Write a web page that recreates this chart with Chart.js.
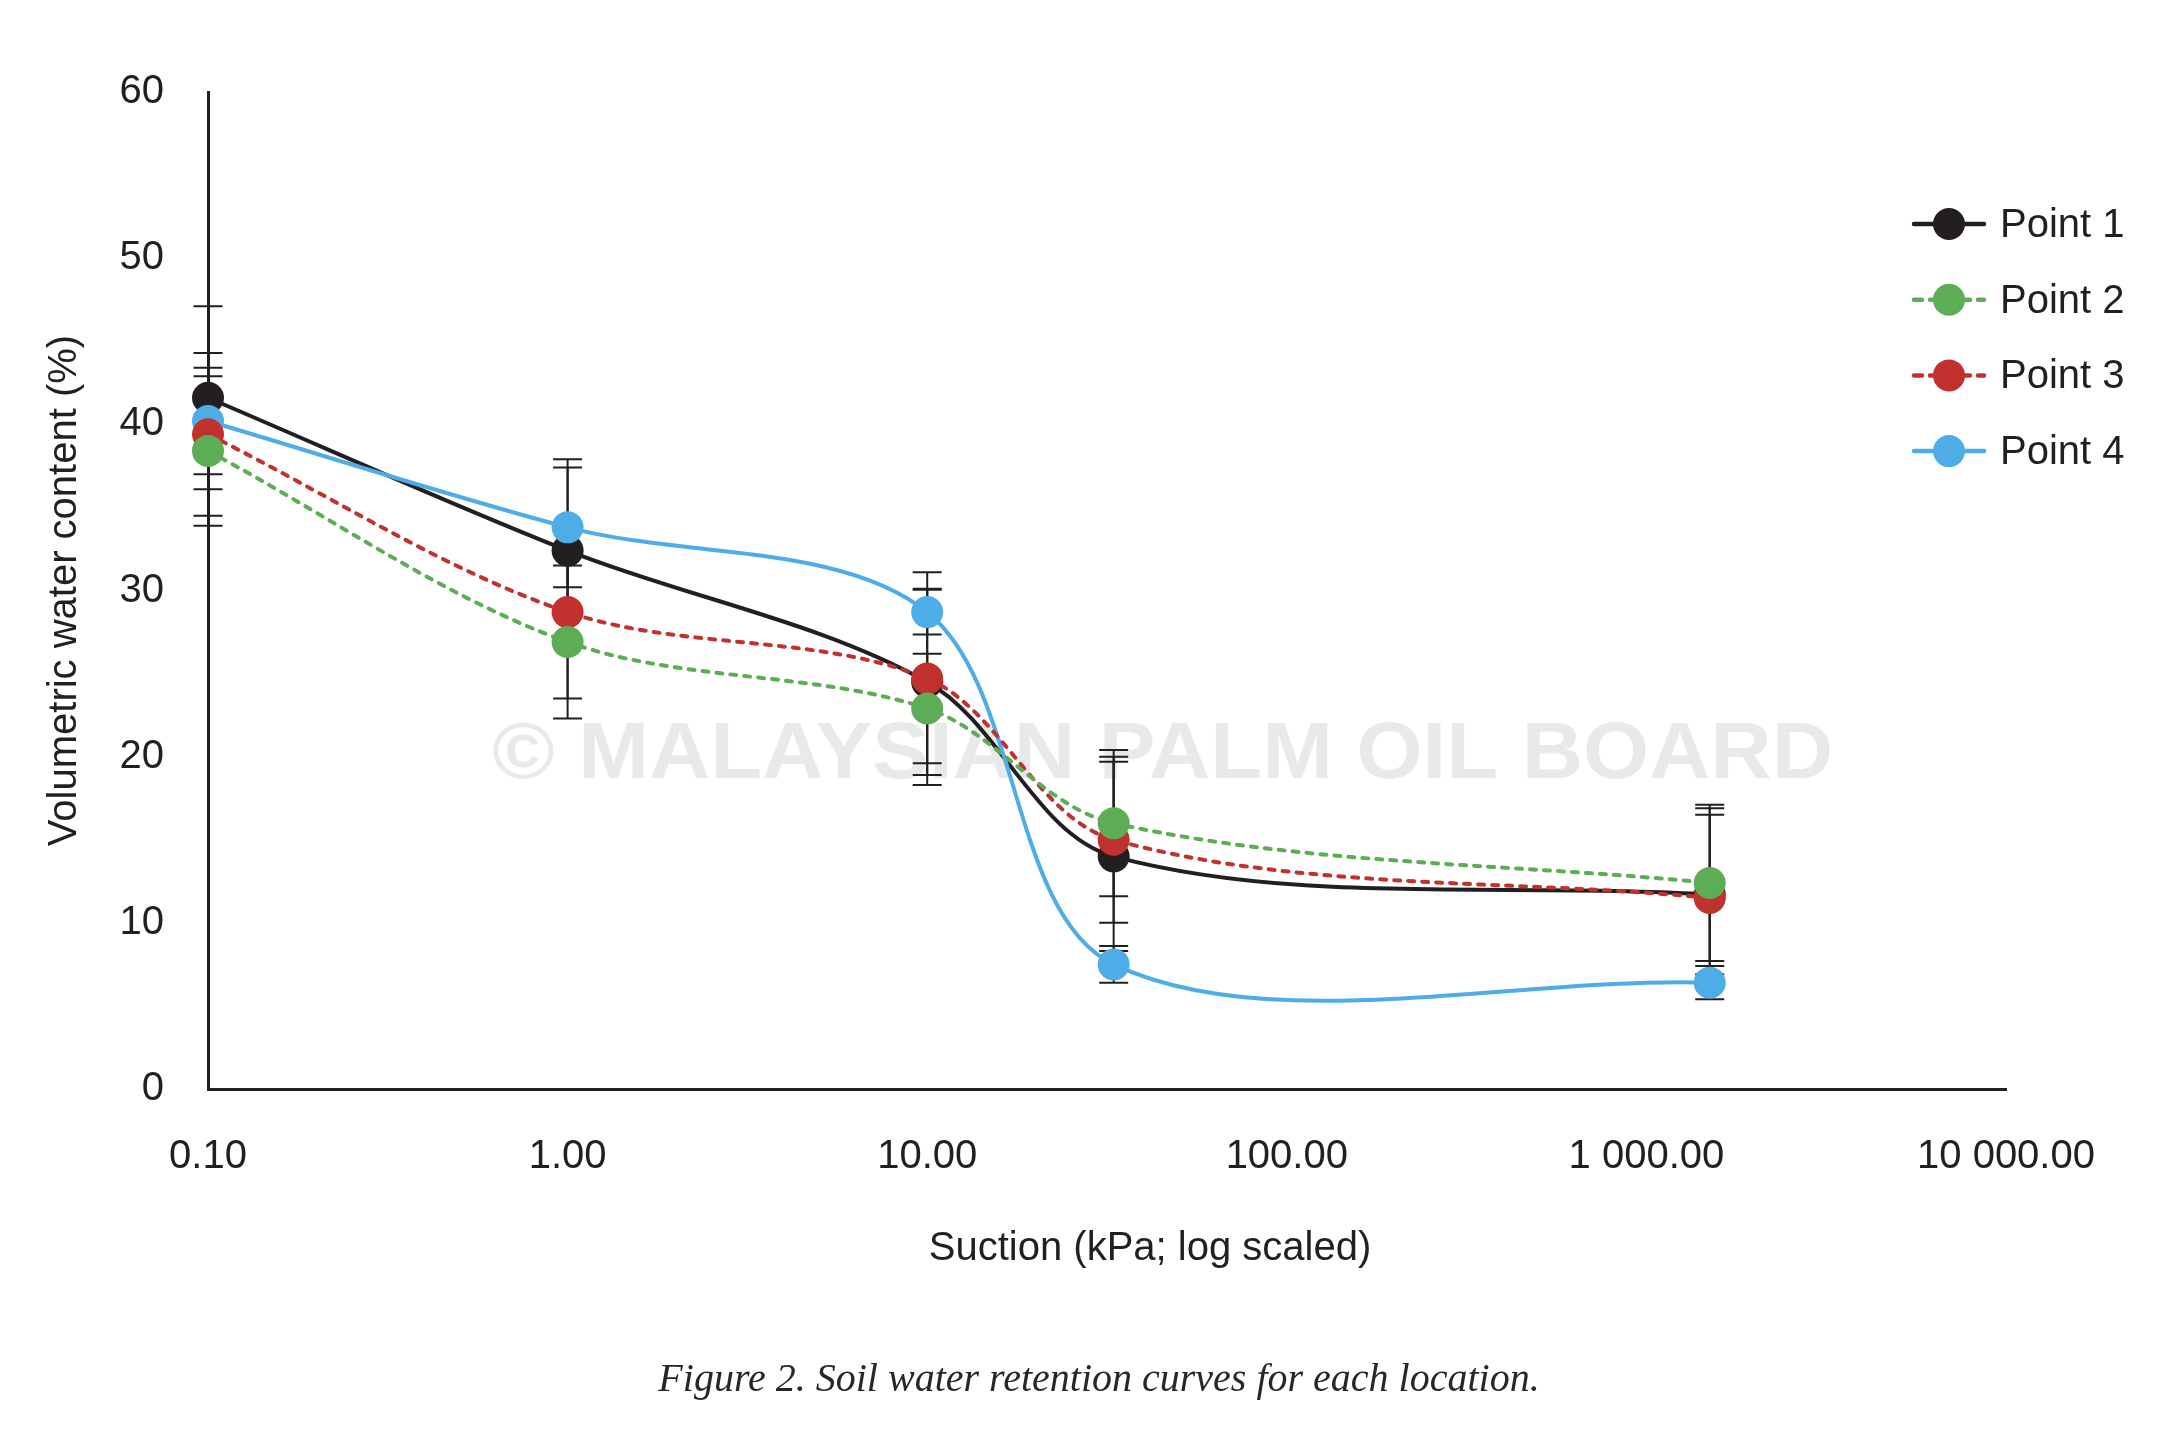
<!DOCTYPE html>
<html>
<head>
<meta charset="utf-8">
<script src="https://cdn.jsdelivr.net/npm/chart.js@4.4.1/dist/chart.umd.min.js"></script>
<style>
  html, body { margin: 0; padding: 0; background: #ffffff; }
  #wrap { width: 2178px; height: 1452px; position: relative; }
</style>
</head>
<body>
<div id="wrap"><canvas id="c" width="2178" height="1452"></canvas></div>
<script>
// ---- data ----
const suction = [0.1, 1, 10, 33, 1500];
const seriesNames = ['Point 1', 'Point 2', 'Point 3', 'Point 4'];
const point1 = [41.6, 32.4, 24.5, 14.0, 11.7];
const point2 = [38.4, 26.9, 22.9, 16.0, 12.4];
const point3 = [39.4, 28.7, 24.7, 15.0, 11.5];
const point4 = [40.2, 33.8, 28.7, 7.5, 6.4];
const err1 = [5.5, 5.5, 5.6, 5.7, 4.8];
const err2 = [4.5, 4.6, 3.3, 4.4, 4.7];
const err3 = [4.9, 5.2, 6.4, 5.0, 5.4];
const err4 = [3.2, 3.6, 1.35, 1.1, 1.0];
const xTickValues = [0.1, 1, 10, 100, 1000, 10000];
const xTickLabels = ['0.10', '1.00', '10.00', '100.00', '1 000.00', '10 000.00'];
const yTickValues = [0, 10, 20, 30, 40, 50, 60];
const xTitle = 'Suction (kPa; log scaled)';
const yTitle = 'Volumetric water content (%)';
const caption = 'Figure 2. Soil water retention curves for each location.';
const watermark = '\u00A9 MALAYSIAN PALM OIL BOARD';

// ---- styles ----
const INK = '#231f20';
const colors = ['#231f20', '#5dad56', '#c1322f', '#4eade7'];
const dashes = [[], [6, 8], [6, 8], []];
const values = [point1, point2, point3, point4];
const errors = [err1, err2, err3, err4];
const drawOrder = [3, 0, 1, 2]; // lower = on top

const datasets = values.map((vals, i) => ({
  label: seriesNames[i],
  data: suction.map((s, j) => ({ x: s, y: vals[j] })),
  borderColor: colors[i],
  backgroundColor: colors[i],
  borderWidth: 4,
  borderDash: dashes[i],
  borderCapStyle: 'round',
  pointRadius: 16,
  pointBorderWidth: 0,
  pointBackgroundColor: colors[i],
  tension: 0.33,
  clip: false,
  order: drawOrder[i],
  errors: errors[i]
}));

const FONT = "'Liberation Sans', Arial, sans-serif";

const decorPlugin = {
  id: 'decor',
  beforeDatasetsDraw(chart) {
    const ctx = chart.ctx;
    const xs = chart.scales.x, ys = chart.scales.y;
    // watermark
    ctx.save();
    ctx.fillStyle = 'rgba(200,200,200,0.40)';
    ctx.font = "bold 80px " + FONT;
    ctx.textAlign = 'left';
    ctx.textBaseline = 'middle';
    const target = 1833 - 492;
    const w = ctx.measureText(watermark).width;
    ctx.translate(492, 756);
    ctx.scale(target / w, 1);
    ctx.fillText(watermark, 0, 0);
    ctx.restore();
    // error bars
    ctx.save();
    ctx.strokeStyle = INK;
    ctx.lineWidth = 2;
    chart.data.datasets.forEach((ds) => {
      ds.data.forEach((p, j) => {
        const e = ds.errors[j];
        const px = xs.getPixelForValue(p.x);
        const yt = ys.getPixelForValue(p.y + e);
        const yb = ys.getPixelForValue(p.y - e);
        ctx.beginPath();
        ctx.moveTo(px, yt); ctx.lineTo(px, yb);
        ctx.moveTo(px - 14.5, yt); ctx.lineTo(px + 14.5, yt);
        ctx.moveTo(px - 14.5, yb); ctx.lineTo(px + 14.5, yb);
        ctx.stroke();
      });
    });
    ctx.restore();
  },
  afterDraw(chart) {
    const ctx = chart.ctx;
    ctx.save();
    // legend
    chart.data.datasets.forEach((ds, i) => {
      const y = 224 + i * 75.7;
      ctx.strokeStyle = ds.borderColor;
      ctx.lineWidth = 4.5;
      ctx.lineCap = 'round';
      ctx.setLineDash(ds.borderDash && ds.borderDash.length ? [8, 8] : []);
      ctx.beginPath();
      ctx.moveTo(1914, y); ctx.lineTo(1984, y);
      ctx.stroke();
      ctx.setLineDash([]);
      ctx.fillStyle = ds.backgroundColor;
      ctx.beginPath();
      ctx.arc(1949, y, 16, 0, Math.PI * 2);
      ctx.fill();
      ctx.fillStyle = INK;
      ctx.font = "40px " + FONT;
      ctx.textAlign = 'left';
      ctx.textBaseline = 'middle';
      ctx.fillText(ds.label, 2000, y + 2);
    });
    // x title
    ctx.fillStyle = INK;
    ctx.font = "40px " + FONT;
    ctx.textAlign = 'center';
    ctx.textBaseline = 'middle';
    ctx.fillText(xTitle, 1150, 1249);
    // caption
    ctx.font = "italic 40px 'Liberation Serif', 'Times New Roman', serif";
    ctx.fillStyle = '#2a2627';
    ctx.fillText(caption, 1099, 1380);
    ctx.restore();
  }
};

new Chart(document.getElementById('c'), {
  type: 'line',
  data: { datasets },
  plugins: [decorPlugin],
  options: {
    responsive: false,
    devicePixelRatio: 1,
    animation: false,
    events: [],
    layout: { padding: { left: 0, top: 92, right: 172, bottom: 163 } },
    plugins: { legend: { display: false }, tooltip: { enabled: false } },
    scales: {
      x: {
        type: 'logarithmic',
        min: 0.1,
        max: 10000,
        grid: { display: false, drawTicks: false, tickLength: 0 },
        border: { display: true, color: INK, width: 3 },
        afterBuildTicks(scale) { scale.ticks = xTickValues.map(v => ({ value: v })); },
        afterFit(scale) { scale.height = 200; },
        ticks: {
          autoSkip: false,
          maxRotation: 0,
          padding: 44,
          color: INK,
          font: { family: FONT, size: 40 },
          callback(value) {
            const k = xTickValues.findIndex(v => Math.abs(v - value) < 1e-9 * Math.max(1, v));
            return k >= 0 ? xTickLabels[k] : '';
          }
        }
      },
      y: {
        min: 0,
        max: 60,
        grid: { display: false, drawTicks: false, tickLength: 0 },
        border: { display: true, color: INK, width: 3 },
        afterBuildTicks(scale) { scale.ticks = yTickValues.map(v => ({ value: v })); },
        afterFit(scale) { scale.width = 208; },
        ticks: {
          padding: 44,
          color: INK,
          font: { family: FONT, size: 40 }
        },
        title: {
          display: true,
          text: yTitle,
          color: INK,
          font: { family: FONT, size: 40 },
          padding: { top: 41, bottom: 0 }
        }
      }
    }
  }
});
</script>
</body>
</html>
